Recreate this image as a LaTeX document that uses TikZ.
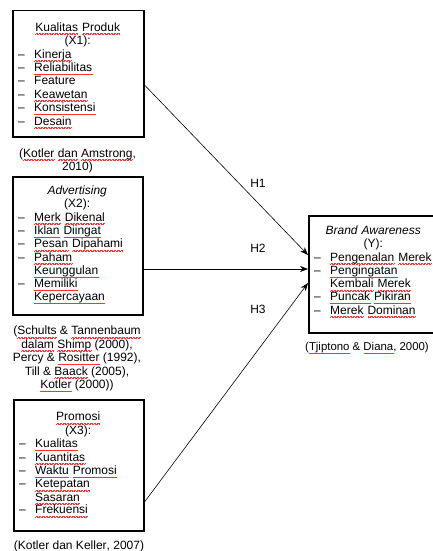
\documentclass[tikz,border=0pt]{standalone}
\usepackage{fontspec}
\setmainfont{Liberation Sans}
\usetikzlibrary{arrows.meta,shadows}
\newcommand\sq[1]{\setbox0\hbox{#1}\leavevmode\rlap{\hbox to\wd0{\color{red!80}\xleaders\hbox{\rule[-3.0pt]{0.7pt}{0.4pt}\rule[-2.5pt]{0.7pt}{0.4pt}}\hfil}}\box0\relax}
\newcommand\itm[1]{\par\noindent\makebox[19pt][l]{\hspace{3pt}--}\parbox[t]{104pt}{\raggedright #1}}
\newcommand\ttl[1]{{\centering #1\par}}
\begin{document}
\begin{tikzpicture}[x=1pt,y=-1pt,
  every node/.style={font=\fontsize{12}{13.4}\selectfont, text=black},
  frame/.style={draw=black, line width=1.5pt, fill=white, anchor=north west, inner sep=0pt,
     drop shadow={shadow xshift=1.2pt, shadow yshift=-1.2pt, opacity=0.25}},
  body/.style={anchor=north west, inner sep=0pt, align=left},
  cite/.style={anchor=north, inner sep=0pt, align=center},
  hyp/.style={inner sep=0pt},
  link/.style={line width=0.6pt, -{Stealth[length=8pt,width=6pt]}}]
\useasboundingbox (0,0) rectangle (432,551);
\fill[white] (0,0) rectangle (432,551);

% X1
\node[frame, minimum width=131pt, minimum height=126pt] (x1) at (12,10) {};
\node[body, text width=125pt] (x1t) at (15,22.5) {\ttl{\sq{Kualitas} \sq{Produk}\\(X1):}
\itm{\sq{Kinerja}}\itm{\sq{Reliabilitas}}\itm{Feature}\itm{\sq{Keawetan}}\itm{\sq{Konsistensi}}\itm{\sq{Desain}}};
\node[cite] (c1) at (77.5,148.5) {(\sq{Kotler} \sq{dan} \sq{Amstrong},\\2010)};

% X2
\node[frame, minimum width=130pt, minimum height=138pt] (x2) at (12,176) {};
\node[body, text width=124pt] (x2t) at (15,185.5) {\ttl{\textit{Advertising}\\(X2):}
\itm{\sq{Merk} \sq{Dikenal}}\itm{\sq{Iklan} \sq{Diingat}}\itm{\sq{Pesan} \sq{Dipahami}}\itm{\sq{Paham}\\\sq{Keunggulan}}\itm{\sq{Memiliki}\\\sq{Kepercayaan}}};
\node[cite] (c2) at (77,326) {(\sq{Schults} \& \sq{Tannenbaum}\\\sq{dalam} \sq{Shimp} (2000),\\Percy \& \sq{Rositter} (1992),\\Till \& \sq{Baack} (2005),\\\sq{Kotler} (2000))};

% X3
\node[frame, minimum width=130pt, minimum height=131pt] (x3) at (13,399) {};
\node[body, text width=124pt] (x3t) at (16,412) {\ttl{\sq{Promosi}\\(X3):}
\itm{\sq{Kualitas}}\itm{\sq{Kuantitas}}\itm{\sq{Waktu} \sq{Promosi}}\itm{\sq{Ketepatan}\\\sq{Sasaran}}\itm{\sq{Frekuensi}}};
\node[cite] (c3) at (79,541) {(\sq{Kotler} \sq{dan} \sq{Keller}, 2007)};

% Y
\node[frame, minimum width=136pt, minimum height=117pt] (y) at (308,215) {};
\node[body, text width=124pt] (yt) at (311,225.5) {\ttl{\textit{Brand Awareness}\\(Y):}
\itm{\sq{Pengenalan} \sq{Merek}}\itm{\sq{Pengingatan}\\\sq{Kembali} \sq{Merek}}\itm{\sq{Puncak} \sq{Pikiran}}\itm{\sq{Merek} \sq{Dominan}}};
\node[anchor=north west, inner sep=0pt, font=\fontsize{11.4}{13.4}\selectfont] (c4) at (305,342) {(\sq{Tjiptono} \& \sq{Diana}, 2000)};

% links
\draw[link] ([yshift=-75pt]x1.north east) -- ([yshift=-40pt]y.north west);
\draw[link] ([yshift=-93pt]x2.north east) -- ([yshift=-54pt]y.north west);
\draw[link] ([yshift=-103pt]x3.north east) -- ([yshift=-68pt]y.north west);
\node[hyp] (h1) at (258,183) {H1};
\node[hyp] (h2) at (258,248) {H2};
\node[hyp] (h3) at (258,309) {H3};
\end{tikzpicture}
\end{document}
